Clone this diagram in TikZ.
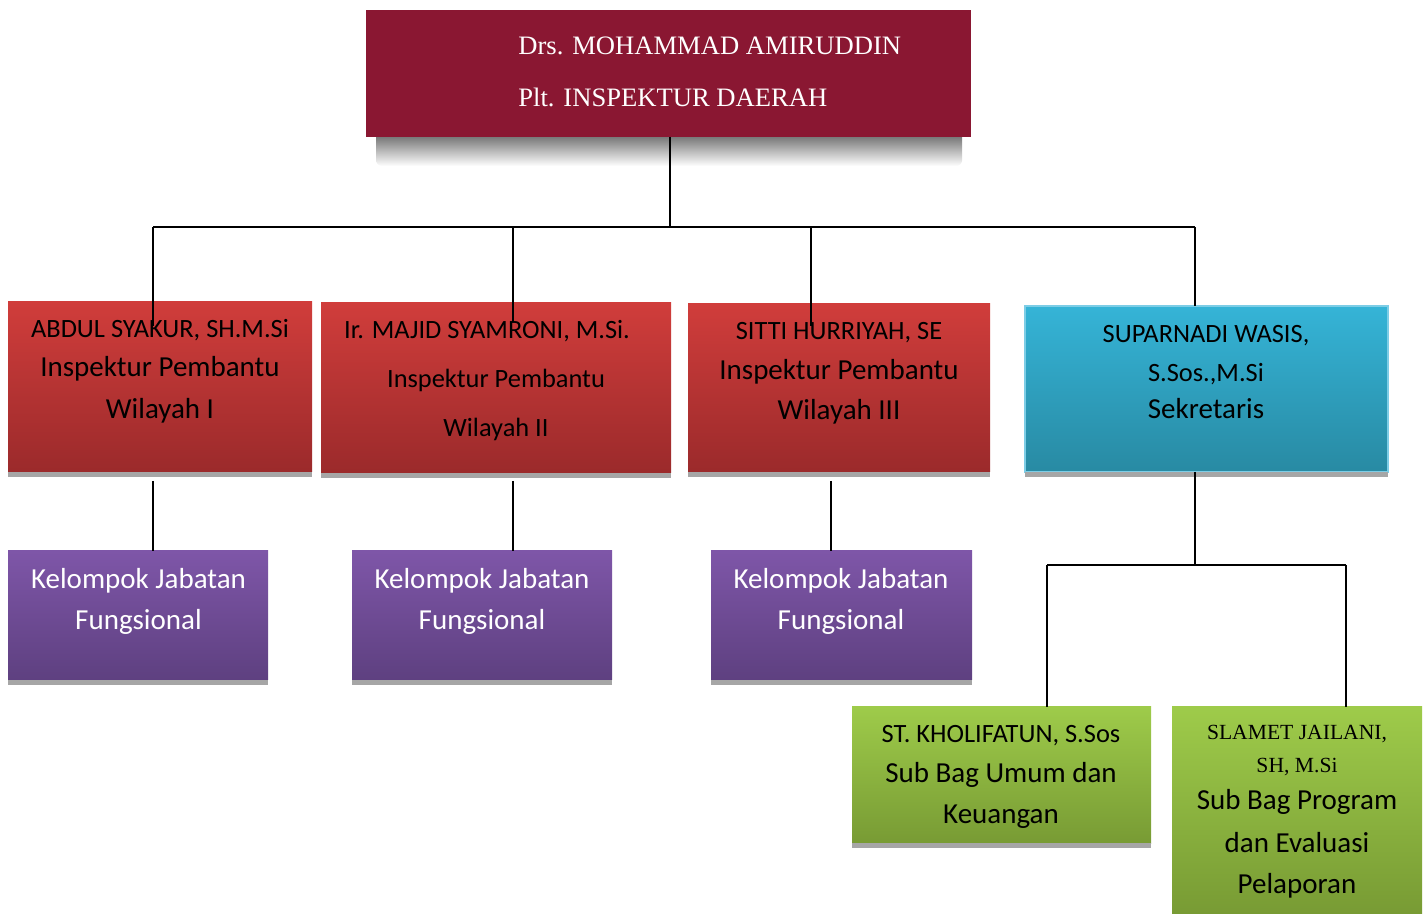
\documentclass[tikz,border=0pt]{standalone}
\usepackage{fontspec}
\setmainfont{Carlito}
\newfontfamily\serifface{Liberation Serif}
\usetikzlibrary{fadings}
\definecolor{topred}{RGB}{138,23,50}
\definecolor{redtop}{RGB}{208,61,59}
\definecolor{redbot}{RGB}{155,42,43}
\definecolor{cyantop}{RGB}{53,180,215}
\definecolor{cyanbot}{RGB}{40,138,163}
\definecolor{cyanedge}{RGB}{125,205,230}
\definecolor{purtop}{RGB}{126,86,168}
\definecolor{purbot}{RGB}{94,64,128}
\definecolor{grntop}{RGB}{158,203,74}
\definecolor{grnbot}{RGB}{120,155,52}
\definecolor{shd}{RGB}{166,166,166}
\begin{document}
\begin{tikzpicture}[x=0.5pt,y=-0.5pt,
  box/.style={rectangle, inner sep=0pt, outer sep=0pt, draw=none},
  redbox/.style={box, top color=redtop, bottom color=redbot},
  cyanbox/.style={box, top color=cyantop, bottom color=cyanbot, draw=cyanedge, line width=1pt},
  purbox/.style={box, top color=purtop, bottom color=purbot},
  grnbox/.style={box, top color=grntop, bottom color=grnbot},
  txt/.style={anchor=base, inner sep=0pt},
  nm/.style={txt, font=\fontsize{13.2}{15}\selectfont},
  rl/.style={txt, font=\fontsize{14.5}{17}\selectfont},
  rs/.style={txt, font=\fontsize{13.2}{15}\selectfont},
  wt/.style={rl, text=white},
  sf/.style={txt, font=\serifface\fontsize{10.8}{13}\selectfont},
  tt/.style={anchor=base west, inner sep=0pt, text=white, font=\serifface\fontsize{13.3}{16}\selectfont},
  ln/.style={line width=1pt, black},
  bar/.style={fill=shd}
]
\useasboundingbox (0,0) rectangle (1426,914);

% top box shadow
\shade[left color=black!65, middle color=black!30, right color=black!65, path fading=south, rounded corners=3pt]
  (376,130) rectangle (962,166);

% boxes
\node[box, fill=topred, minimum width=302.5pt, minimum height=63.5pt] (top) at (668.5,73.5) {};
\node[redbox, minimum width=152pt, minimum height=85pt] (a) at (160,387) {};
\node[redbox, minimum width=175pt, minimum height=85pt] (b) at (496,388) {};
\node[redbox, minimum width=151pt, minimum height=84pt] (c) at (839,388) {};
\node[cyanbox, minimum width=181.5pt, minimum height=83pt] (d) at (1206.5,389) {};
\node[purbox, minimum width=130pt, minimum height=64.5pt] (p1) at (138,615.5) {};
\node[purbox, minimum width=130pt, minimum height=64.5pt] (p2) at (482,615.5) {};
\node[purbox, minimum width=130.5pt, minimum height=64.5pt] (p3) at (841.5,615.5) {};
\node[grnbox, minimum width=149.5pt, minimum height=68pt] (g1) at (1001.5,775) {};
\node[grnbox, minimum width=125pt, minimum height=103.5pt] (g2) at (1297,810.5) {};

% shadow bars
\foreach \n in {a,b,c,d,p1,p2,p3,g1}{
  \fill[bar] (\n.south west) rectangle ([yshift=-2.5pt]\n.south east);
}

% texts
\node[tt] (t1) at (518,55) {Drs. MOHAMMAD AMIRUDDIN};
\node[tt] (t2) at (518,107) {Plt. INSPEKTUR DAERAH};

\node[nm] (a1) at (160,338) {ABDUL SYAKUR, SH.M.Si};
\node[rl] (a2) at (160,377) {Inspektur Pembantu};
\node[rl] (a3) at (160,419) {Wilayah I};

\node[nm] (b1) at (487,339) {Ir. MAJID SYAMRONI, M.Si.};
\node[rs] (b2) at (496,388) {Inspektur Pembantu};
\node[rs] (b3) at (496,437) {Wilayah II};

\node[nm] (c1) at (839,340) {SITTI HURRIYAH, SE};
\node[rl] (c2) at (839,380) {Inspektur Pembantu};
\node[rl] (c3) at (839,420) {Wilayah III};

\node[nm] (d1) at (1206,343) {SUPARNADI WASIS,};
\node[nm] (d2) at (1206,382) {S.Sos.,M.Si};
\node[rl] (d3) at (1206,419) {Sekretaris};

\node[wt] (p1a) at (138.5,589) {Kelompok Jabatan};
\node[wt] (p1b) at (138.5,630) {Fungsional};
\node[wt] (p2a) at (482,589) {Kelompok Jabatan};
\node[wt] (p2b) at (482,630) {Fungsional};
\node[wt] (p3a) at (841,589) {Kelompok Jabatan};
\node[wt] (p3b) at (841,630) {Fungsional};

\node[nm] (g1a) at (1001,743) {ST. KHOLIFATUN, S.Sos};
\node[rl] (g1b) at (1001,783) {Sub Bag Umum dan};
\node[rl] (g1c) at (1001,823) {Keuangan};

\node[sf] (g2a) at (1297,740) {SLAMET JAILANI,};
\node[sf] (g2b) at (1297,773) {SH, M.Si};
\node[rl] (g2c) at (1297,810) {Sub Bag Program};
\node[rl] (g2d) at (1297,852) {dan Evaluasi};
\node[rl] (g2e) at (1297,893) {Pelaporan};

% connectors
\coordinate (j0) at (670,227);
\coordinate (ja) at (153,227);
\coordinate (jb) at (513,227);
\coordinate (jc) at (811,227);
\coordinate (jd) at (1195,227);
\coordinate (ea) at (153,326);
\coordinate (eb) at (513,322);
\coordinate (ec) at (811,326);
\draw[ln] (top.south -| j0) -- (j0);
\draw[ln] (ja) -- (jd);
\draw[ln] (ja) -- (ea);
\draw[ln] (jb) -- (eb);
\draw[ln] (jc) -- (ec);
\draw[ln] (jd) -- (jd |- d.north);

\coordinate (la) at (153,481);
\coordinate (lb) at (513,481);
\coordinate (lc) at (831,481);
\draw[ln] (la) -- (la |- p1.north);
\draw[ln] (lb) -- (lb |- p2.north);
\draw[ln] (lc) -- (lc |- p3.north);

\coordinate (ks) at (1195,565);
\coordinate (kl) at (1047,565);
\coordinate (kr) at (1346,565);
\draw[ln] (d.south -| ks) -- (ks);
\draw[ln] (kl) -- (kr);
\draw[ln] (kl) -- (kl |- g1.north);
\draw[ln] (kr) -- (kr |- g2.north);
\end{tikzpicture}
\end{document}
